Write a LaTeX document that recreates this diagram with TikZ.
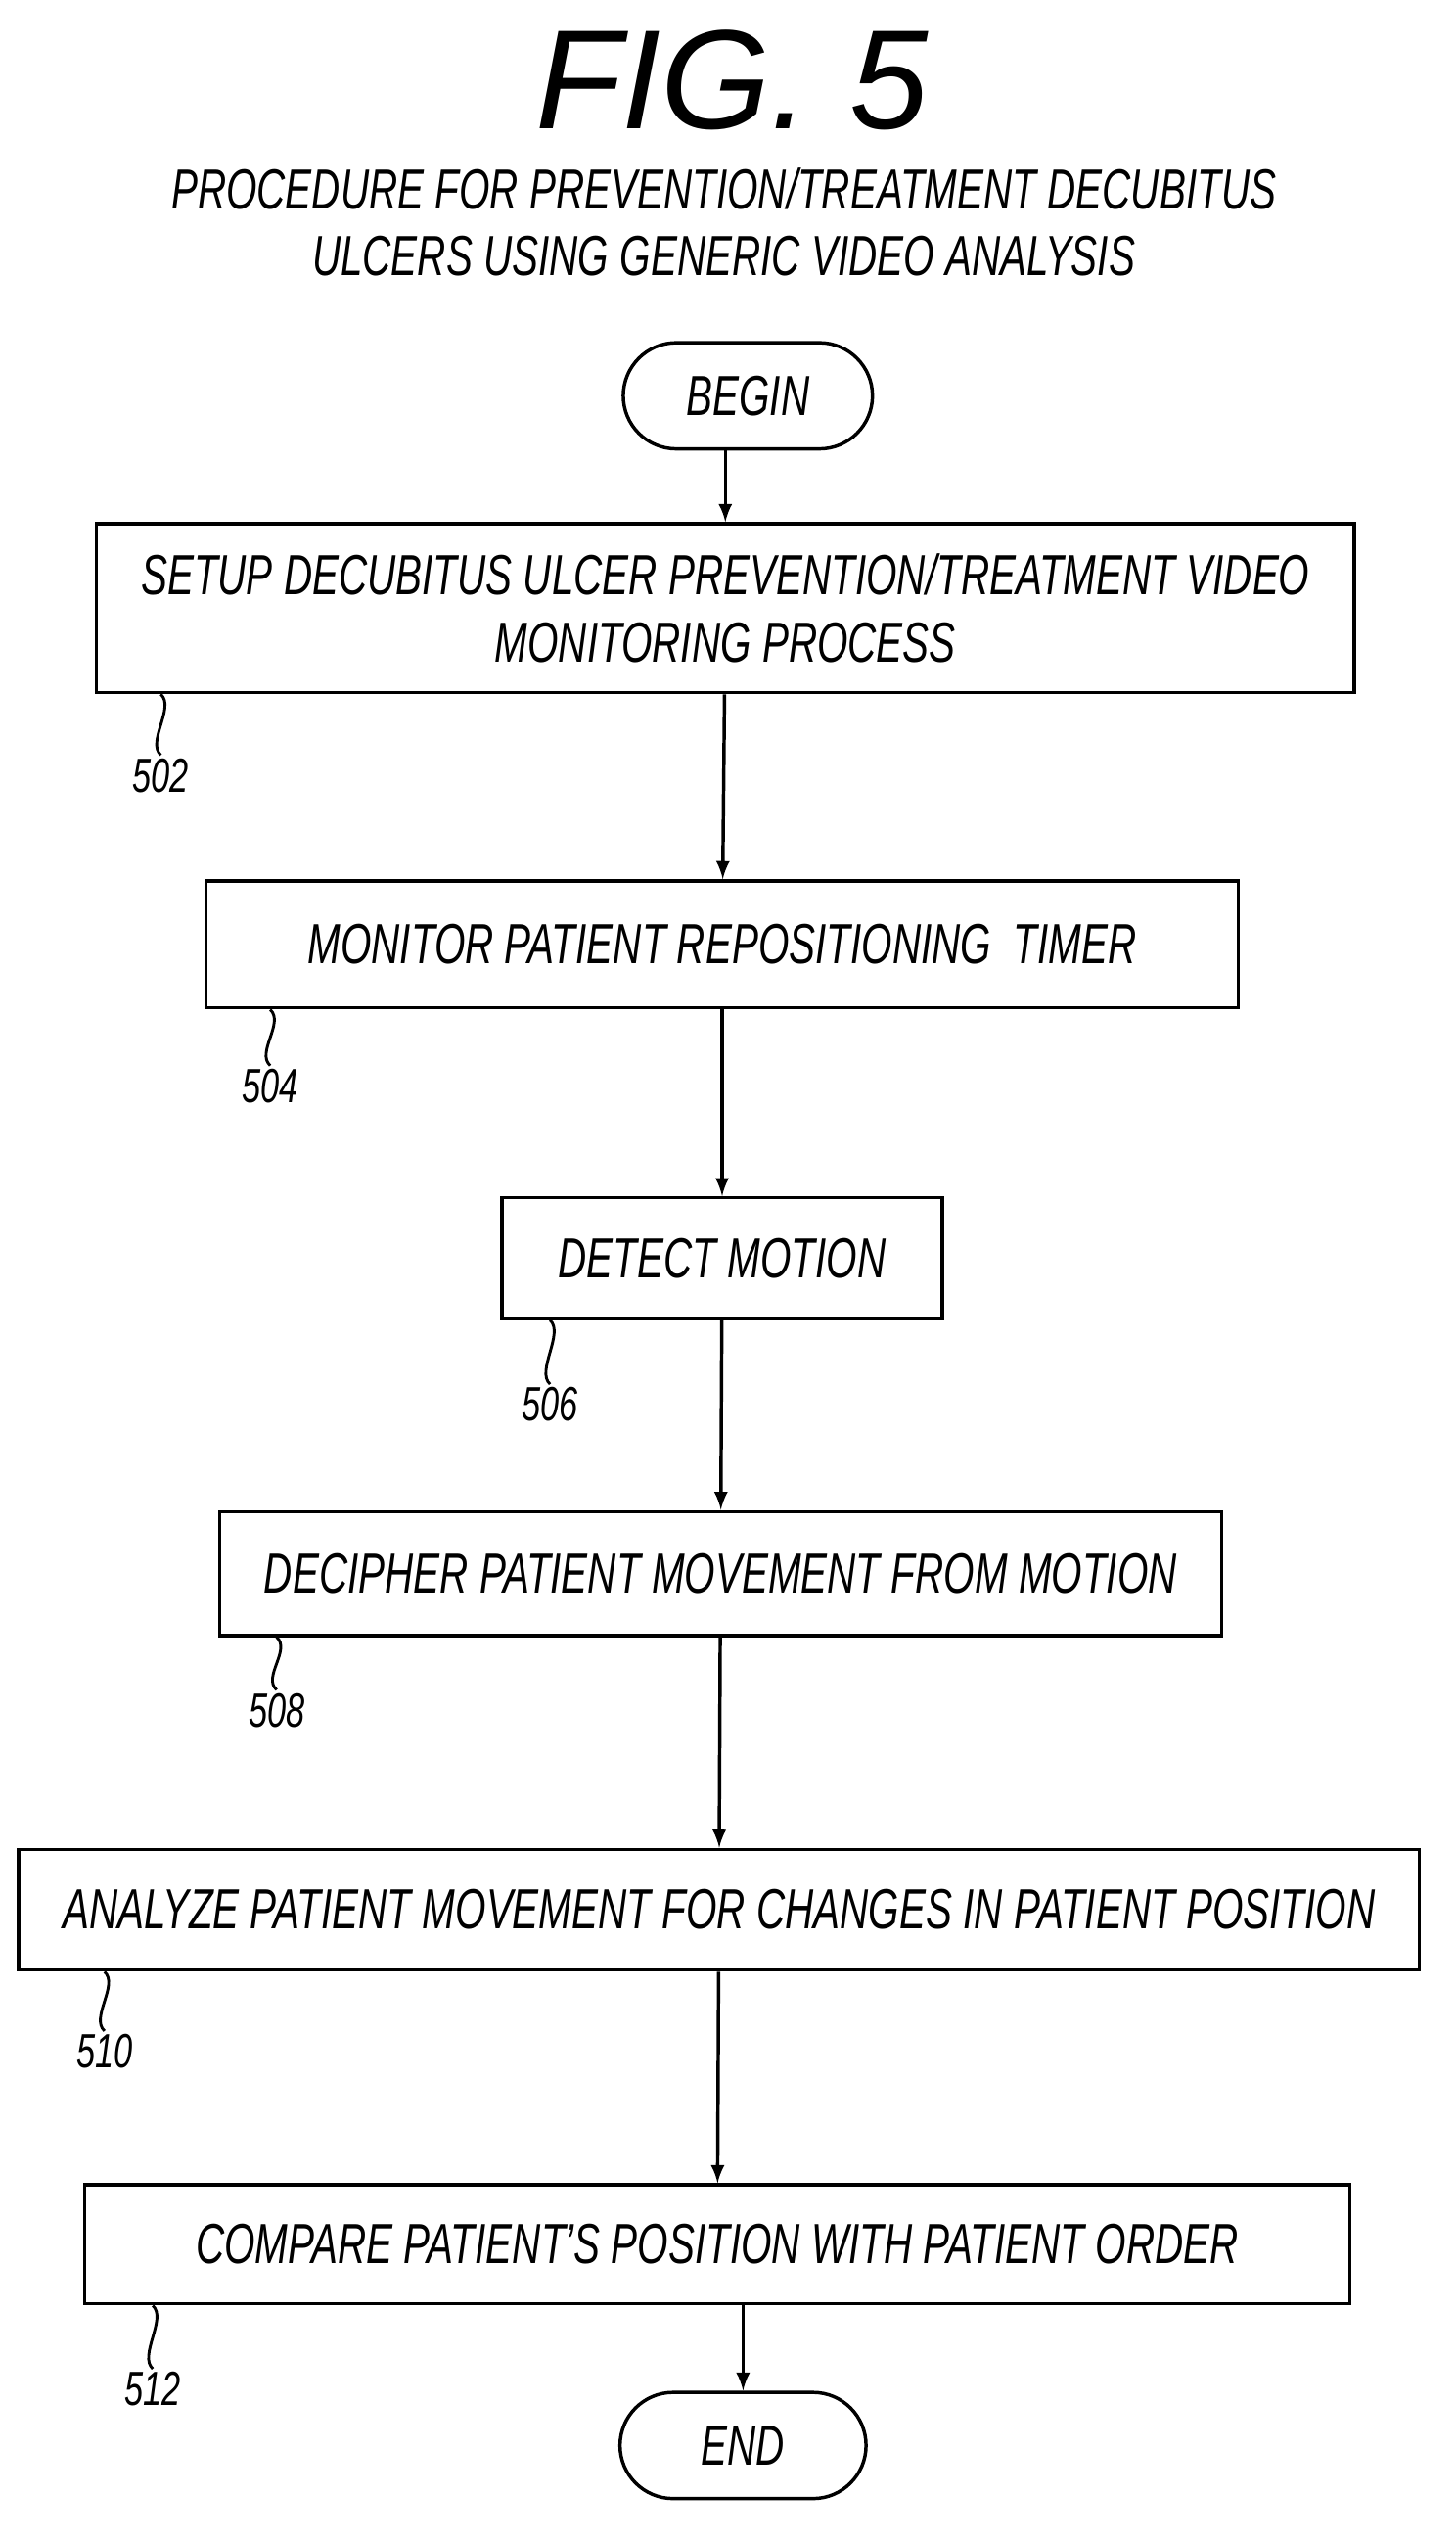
\documentclass[tikz,border=0pt]{standalone}
\usepackage{fontspec}
\setmainfont{Liberation Sans}[FakeStretch=0.7]
\usetikzlibrary{positioning}
\begin{document}
\begin{tikzpicture}[x=0.02cm,y=-0.02cm]
\tikzstyle{box}=[draw, line width=1.2pt, minimum height=1.54cm, inner sep=2pt, font=\fontsize{20}{24}\selectfont\itshape]
\tikzstyle{pill}=[draw, line width=1.2pt, rounded corners=0.66cm, minimum width=3.1cm, minimum height=1.32cm, font=\fontsize{20}{24}\selectfont\itshape]
\tikzstyle{ref}=[font=\fontsize{17}{20}\selectfont\itshape, inner sep=1pt]
\tikzstyle{arr}=[line width=1.2pt, ->, >=latex]
\useasboundingbox (0,0) rectangle (905,1580);
\node[font=\fontsize{50}{56}\selectfont\itshape\addfontfeature{FakeStretch=1.0}] (title) at (455,50) {FIG. 5};
\node[font=\fontsize{20}{23.5}\selectfont\itshape, align=center] (sub) at (450,138)
  {PROCEDURE FOR PREVENTION/TREATMENT DECUBITUS\\ULCERS USING GENERIC VIDEO ANALYSIS};
\node[pill] (begin) at (465,246) {BEGIN};
\node[box, minimum width=15.64cm, minimum height=2.1cm, align=center, font=\fontsize{20}{24}\selectfont\itshape] (n502) at (451,378)
  {SETUP DECUBITUS ULCER PREVENTION/TREATMENT VIDEO\\MONITORING PROCESS};
\node[box, minimum width=12.84cm, minimum height=1.58cm] (n504) at (449,587) {MONITOR PATIENT REPOSITIONING\ \ TIMER};
\node[box, minimum width=5.48cm, minimum height=1.5cm] (n506) at (449,782) {DETECT MOTION};
\node[box, minimum width=12.46cm] (n508) at (448,978) {DECIPHER PATIENT MOVEMENT FROM MOTION};
\node[box, minimum width=17.42cm, minimum height=1.5cm] (n510) at (447,1187) {ANALYZE PATIENT MOVEMENT FOR CHANGES IN PATIENT POSITION};
\node[box, minimum width=15.74cm, minimum height=1.48cm] (n512) at (446,1395) {COMPARE PATIENT'S POSITION WITH PATIENT ORDER};
\node[pill, minimum width=3.06cm] (end) at (462,1520) {END};
% reference numbers
\node[ref] (l502) at (100,482) {502};
\node[ref] (l504) at (168,675) {504};
\node[ref] (l506) at (342,873) {506};
\node[ref] (l508) at (172,1063) {508};
\node[ref] (l510) at (65,1275) {510};
\node[ref] (l512) at (95,1485) {512};
\foreach \i/\j in {502/n502,504/n504,506/n506,508/n508,510/n510,512/n512}{
  \draw[line width=1pt] (l\i.north) .. controls +(-9,-8) and +(9,8) .. (l\i.north |- \j.south);}
\draw[arr] (n502 |- begin.south) -- (n502.north);
\foreach \i/\j in {n502/n504,n504/n506,n506/n508,n508/n510,n510/n512}{
  \draw[arr] (\i) -- (\j);}
\draw[arr] (n512.south -| end) -- (end);
\end{tikzpicture}
\end{document}
